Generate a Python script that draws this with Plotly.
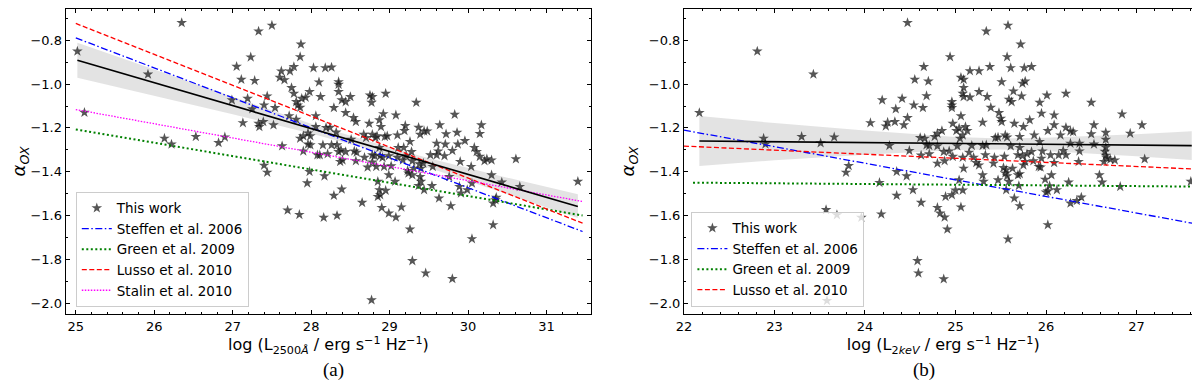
"""alpha_OX against monochromatic luminosity: (a) L_2500A and (b) L_2keV."""

import plotly.graph_objects as go

# Colors
_STAR_COLOR = "rgba(30, 30, 30, 0.75)"
_BAND_FILL = "rgba(200, 200, 200, 0.5)"
_STEFFEN_COLOR = "#0000ff"
_GREEN_COLOR = "#008000"
_LUSSO_COLOR = "#ff0000"
_STALIN_COLOR = "#ff00ff"
_FONT = "DejaVu Sans"

# ── Data: panel (a) ─────────────────────────────────────────────────────
log_l2500 = [
    25.02, 26.35, 25.11, 25.92, 26.13, 26.22, 26.53, 26.82, 26.90, 26.99,
    27.05, 27.11, 27.13, 27.23, 27.28, 27.19, 27.25, 27.33, 27.50, 27.44,
    27.40, 27.33, 27.39, 27.34, 27.54, 27.52, 27.40, 27.44, 27.62, 27.60,
    27.66, 27.73, 27.78, 27.75, 27.87, 27.86, 27.78, 27.81, 27.83, 27.86,
    27.88, 27.93, 27.98, 28.03, 28.10, 28.12, 28.18, 28.26, 28.29, 27.72,
    27.81, 28.06, 28.06, 28.19, 28.24, 27.86, 27.90, 27.96, 27.99, 27.96,
    27.99, 28.15, 28.26, 28.21, 28.11, 28.08, 27.90, 27.63, 27.98, 27.95,
    28.17, 28.32,
    28.35, 28.35, 28.35, 28.39, 28.44, 28.50, 28.44, 28.54, 28.57, 28.75,
    28.78, 28.77, 28.95, 28.74, 28.89, 28.87, 28.92, 29.08, 29.34, 29.20,
    29.19, 29.37, 29.39, 29.44, 29.48, 29.64, 29.83, 29.72, 29.86, 29.96,
    30.17, 30.15, 29.60, 29.71, 29.87, 29.80, 29.62, 29.60, 29.70, 29.52,
    29.55, 29.43, 29.38, 29.29, 29.26, 29.28, 29.21, 29.18, 29.11, 29.10,
    28.97, 28.94, 28.84, 28.78, 28.82, 28.70, 28.67, 28.87, 28.88, 28.78,
    28.81, 28.68, 28.58, 28.55, 28.57, 28.44, 28.38, 28.35, 28.33, 28.51,
    28.37, 28.40, 28.78, 28.83, 28.72, 28.91, 28.93, 29.02, 28.99, 29.10,
    29.17, 29.23, 29.24, 29.29, 29.31, 29.40, 29.39, 29.40, 29.37, 28.99,
    29.07, 28.85, 28.87, 28.95, 28.39, 29.76, 29.90, 30.04, 30.08, 30.11,
    30.15, 30.21, 30.24, 30.30, 30.30, 30.61, 30.43, 30.66, 31.40,
    28.29, 27.70, 27.85, 28.16, 28.33, 28.65, 28.85, 28.88, 28.90, 28.99,
    29.08, 29.15, 29.26, 29.29, 29.46, 28.77, 29.80, 30.05, 30.32, 29.78,
    29.63, 29.54, 29.44, 29.91, 29.99, 29.89, 30.05, 30.36, 30.32, 30.35,
]
alpha_ox_a = [
    -0.850, -0.720, -1.130, -0.955, -1.248, -1.275, -1.240, -1.268, -1.242, -1.073,
    -0.920, -0.979, -1.177, -0.877, -0.984, -1.066, -1.114, -0.759, -0.732, -1.055,
    -1.096, -1.180, -1.172, -1.195, -1.108, -1.187, -1.371, -1.403, -0.941, -0.970,
    -0.981, -0.941, -0.921, -1.017, -0.818, -0.876, -1.043, -1.081, -1.096, -1.107,
    -1.066, -1.061, -1.035, -0.926, -0.991, -1.058, -0.926, -0.923, -1.108, -1.145,
    -1.161, -1.145, -1.195, -1.199, -1.198, -1.248, -1.237, -1.224, -1.237, -1.275,
    -1.278, -1.278, -1.278, -1.319, -1.324, -1.324, -1.306, -1.283, -1.400, -1.452,
    -1.420, -1.220,
    -0.990, -1.002, -1.035, -1.073, -1.081, -1.058, -1.131, -1.154, -1.172, -1.051,
    -1.058, -1.084, -1.043, -1.180, -1.195, -1.164, -1.136, -1.142, -1.084, -1.190,
    -1.213, -1.198, -1.230, -1.215, -1.215, -1.187, -1.139, -1.228, -1.221, -1.259,
    -1.187, -1.227, -1.271, -1.275, -1.275, -1.304, -1.306, -1.324, -1.328, -1.324,
    -1.377, -1.362, -1.365, -1.351, -1.263, -1.309, -1.328, -1.290, -1.290, -1.233,
    -1.237, -1.240, -1.237, -1.230, -1.245, -1.245, -1.230, -1.290, -1.328, -1.324,
    -1.328, -1.335, -1.312, -1.306, -1.351, -1.309, -1.301, -1.309, -1.278, -1.253,
    -1.354, -1.347, -1.357, -1.377, -1.380, -1.336, -1.377, -1.374, -1.328, -1.335,
    -1.347, -1.395, -1.407, -1.415, -1.385, -1.385, -1.423, -1.445, -1.464, -1.415,
    -1.445, -1.445, -1.483, -1.486, -1.480, -1.423, -1.354, -1.377, -1.290, -1.309,
    -1.331, -1.351, -1.342, -1.347, -1.415, -1.342, -1.448, -1.468, -1.445,
    -1.509, -1.576, -1.596, -1.609, -1.600, -1.541, -1.514, -1.506, -1.564, -1.590,
    -1.608, -1.562, -1.663, -1.807, -1.863, -1.986, -1.889, -1.707, -1.643, -1.556,
    -1.521, -1.464, -1.483, -1.498, -1.483, -1.468, -1.453, -1.518, -1.544, -1.529,
]

# Relations in panel (a), read at their end points
rel_a_x = [25.0, 31.46]
steffen_a = [-0.789, -1.673]
green_a = [-1.207, -1.600]
lusso_a = [-0.723, -1.635]
stalin_a = [-1.116, -1.536]

# Fit of this work and its confidence band, panel (a)
fit_a_x = [25.02, 31.40]
fit_a_y = [-0.891, -1.559]
band_a_x = [25.02, 26.0, 27.0, 28.0, 28.7, 29.5, 30.5, 31.40]
band_a_hi = [-0.811, -0.934, -1.058, -1.181, -1.258, -1.338, -1.427, -1.503]
band_a_lo = [-0.971, -1.054, -1.138, -1.225, -1.294, -1.382, -1.503, -1.611]

# ── Data: panel (b) ─────────────────────────────────────────────────────
log_l2kev = [
    22.17, 22.81, 23.43, 22.88, 22.90, 23.30, 23.51, 23.66, 23.82, 23.79,
    24.06, 24.19, 24.25, 24.23, 24.27, 24.34, 24.33, 24.41, 24.43, 24.47,
    24.47, 24.49, 24.35, 24.46, 24.16, 24.54, 24.55, 24.53, 24.65, 24.64,
    24.68, 24.70, 24.62, 24.61, 24.66, 24.68,
    24.71, 24.94, 25.06, 25.09, 25.09, 25.08, 25.09, 25.16, 24.96, 24.96,
    24.96, 25.16, 25.26, 25.34, 25.38, 25.58, 25.57, 25.61, 25.72, 25.76,
    25.84, 25.51, 25.77, 25.74, 25.26, 25.35, 25.64, 25.59, 25.62, 25.73,
    25.93, 26.01, 26.22, 26.50, 25.39, 25.06, 24.97, 25.30, 25.48, 25.50,
    25.51, 25.65, 25.75, 25.82, 25.95, 26.09, 26.09, 26.02, 26.16, 26.22,
    26.27, 26.30, 26.53, 26.50, 26.66, 26.84, 26.93, 27.06, 27.09, 27.60,
    24.85, 24.80, 24.77, 24.71, 24.80, 24.87, 24.93, 24.80, 24.88, 24.97,
    25.01, 25.04, 25.08, 25.05, 25.11, 25.13, 25.02, 25.18, 25.15, 25.20,
    25.30, 25.34, 25.33, 25.23, 25.26, 25.08, 25.09, 25.30, 25.31, 25.43,
    25.42, 25.44, 25.47, 25.55, 25.57, 25.61, 25.54, 25.53, 25.56, 25.55,
    25.57, 25.63, 25.69, 25.71, 25.59, 25.71, 25.71, 25.69, 25.74, 25.79,
    25.84, 25.77, 25.75, 25.87, 25.93, 25.96, 25.95, 25.92, 25.94, 25.86,
    26.05, 26.09, 26.14, 26.19, 26.22, 26.27, 26.37, 26.37, 26.36, 26.53,
    26.66, 26.66, 26.65, 26.66, 26.67, 26.64, 26.71, 26.76, 26.06, 25.99,
    26.25, 26.59, 26.62, 26.82, 26.04, 26.02, 26.12, 25.00, 25.08, 25.47,
    25.04,
    23.57, 23.69, 23.96, 24.18, 24.35, 24.62, 24.58, 24.59, 23.58, 24.80,
    24.83, 24.88, 24.91, 24.87, 24.89, 24.96, 25.06, 25.56, 25.58, 25.65,
    25.71, 25.70, 26.00, 26.02, 26.27, 26.34, 26.39,
]
alpha_ox_b = [
    -1.131, -0.850, -0.955, -1.248, -1.274, -1.240, -1.269, -1.242, -1.373, -1.403,
    -1.177, -1.073, -1.175, -1.192, -1.281, -1.114, -1.172, -1.066, -1.187, -0.720,
    -1.154, -1.304, -1.400, -1.420, -1.450, -1.096, -0.979, -1.483, -0.921, -1.108,
    -1.054, -0.987, -1.325, -1.245, -1.248, -1.278,
    -1.319, -0.876, -0.970, -0.979, -1.016, -1.043, -1.058, -1.060, -1.081, -1.096,
    -1.108, -0.940, -0.940, -0.759, -0.921, -0.732, -0.876, -0.926, -0.818, -0.926,
    -0.921, -0.990, -0.987, -0.997, -1.035, -1.058, -1.032, -1.070, -1.081, -1.055,
    -1.084, -1.051, -1.043, -1.084, -1.107, -1.146, -1.180, -1.175, -1.131, -1.157,
    -1.172, -1.180, -1.195, -1.164, -1.134, -1.142, -1.187, -1.213, -1.233, -1.198,
    -1.215, -1.218, -1.187, -1.228, -1.221, -1.137, -1.225, -1.187, -1.342, -1.445,
    -1.213, -1.225, -1.240, -1.281, -1.283, -1.309, -1.306, -1.362, -1.351, -1.331,
    -1.213, -1.202, -1.233, -1.248, -1.195, -1.213, -1.283, -1.281, -1.312, -1.335,
    -1.281, -1.278, -1.324, -1.359, -1.370, -1.335, -1.385, -1.415, -1.445, -1.335,
    -1.362, -1.245, -1.243, -1.233, -1.243, -1.283, -1.331, -1.382, -1.392, -1.407,
    -1.420, -1.385, -1.415, -1.410, -1.445, -1.240, -1.290, -1.324, -1.328, -1.319,
    -1.309, -1.354, -1.370, -1.233, -1.263, -1.306, -1.339, -1.377, -1.380, -1.351,
    -1.324, -1.359, -1.324, -1.304, -1.324, -1.271, -1.271, -1.306, -1.354, -1.275,
    -1.253, -1.289, -1.308, -1.326, -1.337, -1.354, -1.344, -1.347, -1.415, -1.435,
    -1.448, -1.415, -1.448, -1.468, -1.465, -1.488, -1.483, -1.485, -1.485, -1.438,
    -1.438,
    -1.574, -1.597, -1.609, -1.594, -1.509, -1.541, -1.807, -1.863, -1.989, -1.564,
    -1.590, -1.608, -1.663, -1.890, -1.514, -1.506, -1.562, -1.483, -1.708, -1.521,
    -1.556, -1.464, -1.494, -1.643, -1.544, -1.533, -1.517,
]

# Relations in panel (b), read at their end points
steffen_b_x = [22.0, 27.68]
steffen_b = [-1.210, -1.640]
lusso_b_x = [22.0, 27.70]
lusso_b = [-1.283, -1.389]
green_b_x = [22.1, 27.70]
green_b = [-1.450, -1.468]

# Fit of this work and its confidence band, panel (b)
fit_b_x = [22.17, 27.61]
fit_b_y = [-1.260, -1.281]
band_b_x = [22.17, 23.0, 24.0, 25.0, 25.5, 26.0, 27.0, 27.61]
band_b_hi = [-1.146, -1.178, -1.212, -1.241, -1.248, -1.245, -1.229, -1.215]
band_b_lo = [-1.374, -1.348, -1.322, -1.301, -1.298, -1.305, -1.329, -1.347]

Y_RANGE = [-2.05, -0.656]

# Line styles: (name, color, dash, width)
_STEFFEN = ("Steffen et al. 2006", _STEFFEN_COLOR, "7px,2.5px,1.5px,2.5px", 1.3)
_GREEN = ("Green et al. 2009", _GREEN_COLOR, "2px,2.5px", 2.0)
_LUSSO = ("Lusso et al. 2010", _LUSSO_COLOR, "5px,2.5px", 1.3)
_STALIN = ("Stalin et al. 2010", _STALIN_COLOR, "1.5px,1.5px", 1.3)


def _add_band(fig, xs, hi, lo, xref, yref):
    fig.add_trace(
        go.Scatter(
            x=xs + xs[::-1],
            y=hi + lo[::-1],
            fill="toself",
            fillcolor=_BAND_FILL,
            line=dict(width=0),
            mode="lines",
            hoverinfo="skip",
            showlegend=False,
            xaxis=xref,
            yaxis=yref,
        )
    )


def _add_stars(fig, xs, ys, xref, yref, legend):
    fig.add_trace(
        go.Scatter(
            x=xs,
            y=ys,
            mode="markers",
            name="This work",
            marker=dict(symbol="star", size=8, color=_STAR_COLOR, line=dict(width=0)),
            xaxis=xref,
            yaxis=yref,
            legend=legend,
        )
    )


def _add_relation(fig, xs, ys, style, xref, yref, legend):
    name, color, dash, width = style
    fig.add_trace(
        go.Scatter(
            x=xs,
            y=ys,
            mode="lines",
            name=name,
            line=dict(color=color, width=width, dash=dash),
            xaxis=xref,
            yaxis=yref,
            legend=legend,
        )
    )


def _add_fit(fig, xs, ys, xref, yref):
    fig.add_trace(
        go.Scatter(
            x=xs,
            y=ys,
            mode="lines",
            line=dict(color="black", width=1.6),
            showlegend=False,
            xaxis=xref,
            yaxis=yref,
        )
    )


fig = go.Figure()

# Panel (a)
_add_band(fig, band_a_x, band_a_hi, band_a_lo, "x", "y")
_add_stars(fig, log_l2500, alpha_ox_a, "x", "y", "legend")
_add_relation(fig, rel_a_x, steffen_a, _STEFFEN, "x", "y", "legend")
_add_relation(fig, rel_a_x, green_a, _GREEN, "x", "y", "legend")
_add_relation(fig, rel_a_x, lusso_a, _LUSSO, "x", "y", "legend")
_add_relation(fig, rel_a_x, stalin_a, _STALIN, "x", "y", "legend")
_add_fit(fig, fit_a_x, fit_a_y, "x", "y")

# Panel (b)
_add_band(fig, band_b_x, band_b_hi, band_b_lo, "x2", "y2")
_add_stars(fig, log_l2kev, alpha_ox_b, "x2", "y2", "legend2")
_add_relation(fig, steffen_b_x, steffen_b, _STEFFEN, "x2", "y2", "legend2")
_add_relation(fig, green_b_x, green_b, _GREEN, "x2", "y2", "legend2")
_add_relation(fig, lusso_b_x, lusso_b, _LUSSO, "x2", "y2", "legend2")
_add_fit(fig, fit_b_x, fit_b_y, "x2", "y2")

_axis_common = dict(
    automargin=False,
    showline=True,
    linecolor="black",
    linewidth=1,
    mirror="allticks",
    ticks="inside",
    ticklen=4,
    tickwidth=1,
    tickcolor="black",
    showgrid=False,
    zeroline=False,
    tickfont=dict(family=_FONT, size=13, color="black"),
)
_x_common = dict(
    _axis_common,
    dtick=1,
    minor=dict(ticks="inside", ticklen=2, dtick=0.2, tickcolor="black"),
)
_y_common = dict(
    _axis_common,
    range=Y_RANGE,
    dtick=0.2,
    tick0=0,
    tickformat=".1f",
    minor=dict(ticks="inside", ticklen=2, dtick=0.1, tickcolor="black"),
    title=dict(
        text="<i>α</i><sub><i>OX</i></sub>",
        font=dict(family=_FONT, size=18, color="black"),
        standoff=9,
    ),
)
_x_title_font = dict(family=_FONT, size=16, color="black")

_legend_common = dict(
    xanchor="left",
    yanchor="bottom",
    y=0.224,
    bgcolor="rgba(255,255,255,0.8)",
    bordercolor="#cccccc",
    borderwidth=1,
    font=dict(family=_FONT, size=13.5, color="black"),
    itemwidth=30,
    tracegroupgap=0,
)

fig.update_layout(
    width=1200,
    height=385,
    margin=dict(l=0, r=0, t=0, b=0),
    paper_bgcolor="white",
    plot_bgcolor="white",
    font=dict(family=_FONT, color="black"),
    xaxis=dict(
        _x_common,
        domain=[0.048, 0.486],
        range=[24.87, 31.57],
        anchor="y",
        title=dict(
            text="log (L<sub>2500<i>Å</i></sub> / erg s<sup>−1</sup> Hz<sup>−1</sup>)",
            font=_x_title_font,
            standoff=4,
        ),
    ),
    yaxis=dict(_y_common, domain=[0.205, 0.998], anchor="x"),
    xaxis2=dict(
        _x_common,
        domain=[0.5633, 0.9955],
        range=[22.0, 27.73],
        anchor="y2",
        title=dict(
            text="log (L<sub>2<i>keV</i></sub> / erg s<sup>−1</sup> Hz<sup>−1</sup>)",
            font=_x_title_font,
            standoff=4,
        ),
    ),
    yaxis2=dict(_y_common, domain=[0.205, 0.998], anchor="x2"),
    legend=dict(_legend_common, x=0.0565),
    legend2=dict(_legend_common, x=0.5695),
    annotations=[
        dict(
            text="(a)", x=0.261, y=0.027, xref="paper", yref="paper",
            showarrow=False, font=dict(family="Liberation Serif", size=19, color="black"),
        ),
        dict(
            text="(b)", x=0.7745, y=0.027, xref="paper", yref="paper",
            showarrow=False, font=dict(family="Liberation Serif", size=19, color="black"),
        ),
    ],
)

fig.write_html("out.html")
